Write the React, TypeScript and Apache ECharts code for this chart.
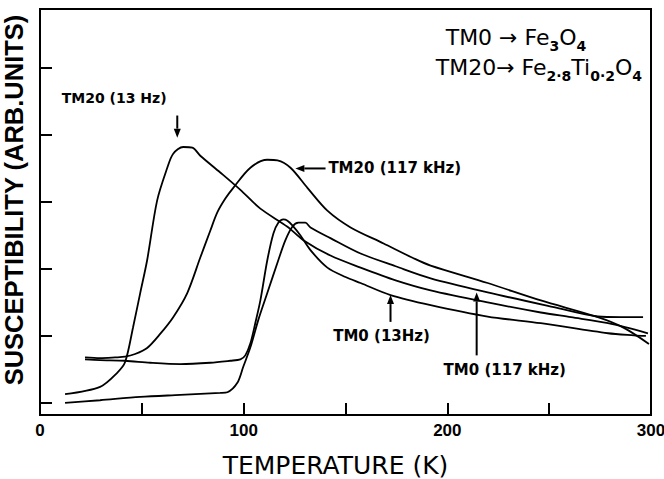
import { useEffect, useRef } from 'react';
import * as echarts from 'echarts';

// [temperature (K), susceptibility (arb. units)]
const tm20_13Hz: [number, number][] = [
  [12.3, 0.13], [29.5, 0.24], [37.9, 0.45], [41.8, 0.61], [45.7, 1.13], [49.2, 1.64],
  [52.6, 2.13], [57.5, 3.02], [62.5, 3.51], [65.4, 3.72], [70.3, 3.82], [74.8, 3.81],
  [78.7, 3.69], [88.5, 3.44], [98.4, 3.18], [108.2, 2.9], [121.5, 2.63], [129.3, 2.43],
  [142.6, 2.2], [157.4, 2.02], [174.6, 1.83], [191.8, 1.68], [219.8, 1.5], [245.9, 1.35],
  [260.7, 1.28], [278.9, 1.19], [298.5, 1.04],
];

const tm20_117kHz: [number, number][] = [
  [22.1, 0.68], [29.5, 0.67], [36.9, 0.68], [41.8, 0.69], [46.7, 0.73], [52.6, 0.82],
  [59.0, 1.03], [65.4, 1.28], [72.3, 1.64], [78.7, 2.17], [83.6, 2.57], [87.0, 2.84],
  [91.0, 3.05], [94.9, 3.21], [103.3, 3.51], [111.6, 3.63], [116.6, 3.62], [123.0, 3.51],
  [131.3, 3.21], [141.1, 2.87], [152.5, 2.62], [168.7, 2.38], [183.4, 2.16], [191.8, 2.05],
  [219.8, 1.79], [245.9, 1.53], [273.9, 1.28], [286.7, 1.12], [299.0, 0.88],
];

const tm0_13Hz: [number, number][] = [
  [22.1, 0.65], [29.5, 0.64], [41.8, 0.63], [54.1, 0.6], [68.9, 0.58], [83.6, 0.6],
  [93.4, 0.63], [98.4, 0.65], [100.8, 0.71], [103.3, 0.89], [105.7, 1.19], [108.2, 1.53],
  [111.6, 2.13], [114.6, 2.53], [117.0, 2.69], [119.5, 2.74], [121.5, 2.72], [123.9, 2.65],
  [127.9, 2.5], [132.8, 2.28], [141.1, 2.02], [150.0, 1.88], [157.4, 1.79], [172.1, 1.61],
  [191.8, 1.46], [219.8, 1.29], [245.9, 1.19], [278.9, 1.04], [291.6, 1.01], [297.5, 1.0],
];

const tm0_117kHz: [number, number][] = [
  [12.3, 0.0], [29.5, 0.04], [49.2, 0.09], [68.9, 0.12], [88.5, 0.15], [92.0, 0.16],
  [96.9, 0.3], [99.8, 0.54], [103.3, 0.83], [107.2, 1.24], [111.6, 1.64], [117.0, 2.13],
  [120.5, 2.43], [123.9, 2.63], [126.9, 2.69], [130.3, 2.69], [132.8, 2.62], [142.6, 2.46],
  [157.4, 2.23], [174.6, 2.04], [191.8, 1.86], [219.8, 1.65], [252.3, 1.43], [273.9, 1.29],
  [285.2, 1.28], [296.1, 1.28],
];

const seriesNames = ['TM20 (13 Hz)', 'TM20 (117 kHz)', 'TM0 (13Hz)', 'TM0 (117 kHz)'];
const xLabelValues = [0, 100, 200, 300];
const yTickValues = [0, 1, 2, 3, 4, 5];

export default function App() {
  const ref = useRef<HTMLDivElement>(null);

  useEffect(() => {
    const chart = echarts.init(ref.current!, null, { renderer: 'svg' });
    const line = (name: string, data: [number, number][]) => ({
      type: 'line',
      name,
      data,
      showSymbol: false,
      smooth: 0.3,
      silent: true,
      lineStyle: { color: '#000', width: 1.8 },
      itemStyle: { color: '#000' },
    });

    chart.setOption({
      animation: false,
      backgroundColor: '#fff',
      grid: {
        left: 40,
        right: 13,
        top: 9,
        bottom: 64,
        outerBoundsMode: 'none',
        containLabel: false,
        show: true,
        borderColor: '#000',
        borderWidth: 2,
      },
      xAxis: {
        type: 'value',
        min: 0,
        max: 300,
        interval: 50,
        name: 'TEMPERATURE (K)',
        nameLocation: 'middle',
        nameGap: 38,
        nameTextStyle: {
          fontFamily: 'DejaVu Sans',
          fontSize: 25,
          lineHeight: 25,
          color: '#000',
          padding: [0, 20, 0, 0],
        },
        axisLine: { onZero: false, lineStyle: { color: '#000', width: 2 } },
        axisTick: { inside: true, length: 12, lineStyle: { color: '#000', width: 2 } },
        axisLabel: {
          formatter: (v: number) => (xLabelValues.includes(v) ? String(v) : ''),
          color: '#000',
          fontFamily: 'Liberation Sans',
          fontWeight: 'bold',
          fontSize: 17,
          margin: 7,
        },
        splitLine: { show: false },
      },
      yAxis: {
        type: 'value',
        min: -0.18,
        max: 5.88,
        name: 'SUSCEPTIBILITY (ARB.UNITS)',
        nameLocation: 'middle',
        nameRotate: 90,
        nameGap: 13,
        nameTextStyle: {
          fontFamily: 'Liberation Sans',
          fontWeight: 'bold',
          fontSize: 25.5,
          color: '#000',
          padding: [0, 0, 0, 24],
        },
        axisLine: { onZero: false, lineStyle: { color: '#000', width: 2 } },
        axisTick: { inside: true, length: 12, customValues: yTickValues, lineStyle: { color: '#000', width: 2 } },
        axisLabel: { show: false },
        splitLine: { show: false },
      },
      series: [
        line(seriesNames[0], tm20_13Hz),
        line(seriesNames[1], tm20_117kHz),
        line(seriesNames[2], tm0_13Hz),
        line(seriesNames[3], tm0_117kHz),
      ],
    });

    const px = (p: number[]) => chart.convertToPixel({ gridIndex: 0 }, p) as number[];
    const arrow = (tail: number[], tip: number[]) => {
      const a = px(tail);
      const b = px(tip);
      const dx = b[0] - a[0];
      const dy = b[1] - a[1];
      const len = Math.hypot(dx, dy);
      const ux = dx / len;
      const uy = dy / len;
      const hl = 9;
      const hw = 3.5;
      const bx = b[0] - ux * hl;
      const by = b[1] - uy * hl;
      return [
        { type: 'line', shape: { x1: a[0], y1: a[1], x2: bx, y2: by }, style: { stroke: '#000', lineWidth: 2 } },
        {
          type: 'polygon',
          shape: { points: [[b[0], b[1]], [bx - uy * hw, by + ux * hw], [bx + uy * hw, by - ux * hw]] },
          style: { fill: '#000' },
        },
      ];
    };
    const label = (text: string, at: number[], align: string, size: number) => {
      const p = px(at);
      return {
        type: 'text',
        x: p[0],
        y: p[1],
        style: {
          text,
          fill: '#000',
          fontFamily: 'DejaVu Sans',
          fontWeight: 'bold',
          fontSize: size,
          align,
          verticalAlign: 'middle',
        },
      };
    };
    const formula = (text: string, at: number[]) => {
      const p = px(at);
      return {
        type: 'text',
        x: p[0],
        y: p[1],
        style: {
          text,
          align: 'left',
          verticalAlign: 'middle',
          rich: {
            a: { fontFamily: 'DejaVu Sans', fontSize: 22, fill: '#000', lineHeight: 30, verticalAlign: 'middle' },
            s: { fontFamily: 'DejaVu Sans', fontWeight: 'bold', fontSize: 14, fill: '#000', lineHeight: 30, verticalAlign: 'bottom' },
          },
        },
      };
    };

    chart.setOption({
      graphic: [
        label(seriesNames[0], [36.4, 4.55], 'center', 14),
        ...arrow([67.4, 4.29], [67.4, 3.96]),
        label(seriesNames[1], [141.6, 3.5], 'left', 15),
        ...arrow([140.2, 3.5], [125.4, 3.5]),
        label(seriesNames[2], [167.7, 1.0], 'center', 15),
        ...arrow([172.1, 1.21], [172.1, 1.61]),
        label(seriesNames[3], [228.2, 0.49], 'center', 15),
        ...arrow([214.4, 0.71], [214.4, 1.65]),
        formula('{a|TM0 → Fe}{s|3}{a|O}{s|4}', [199.2, 5.45]),
        formula('{a|TM20→ Fe}{s|2·8}{a|Ti}{s|0·2}{a|O}{s|4}', [194.3, 5.0]),
      ],
    });

    return () => chart.dispose();
  }, []);

  return <div ref={ref} style={{ position: 'absolute', left: 0, top: 0, width: 664, height: 479 }} />;
}
